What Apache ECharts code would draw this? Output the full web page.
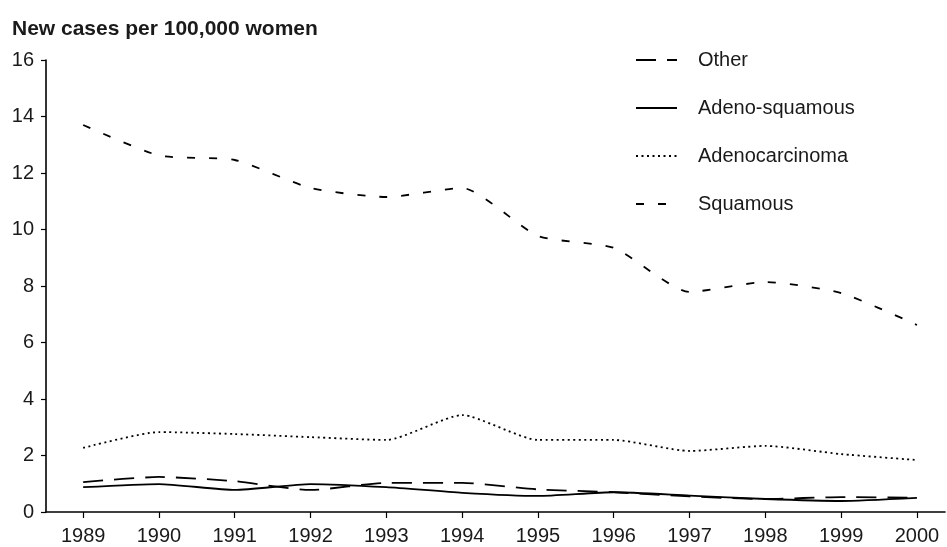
<!DOCTYPE html>
<html>
<head>
<meta charset="utf-8">
<script src="https://cdn.jsdelivr.net/npm/echarts@6/dist/echarts.min.js"></script>
<style>
  html, body { margin: 0; padding: 0; background: #fff; }
  #mainChart { width: 947px; height: 547px; }
</style>
</head>
<body>
<div id="mainChart"></div>
<script>
// data
var years = [1989, 1990, 1991, 1992, 1993, 1994, 1995, 1996, 1997, 1998, 1999, 2000];
var other = [1.06, 1.24, 1.09, 0.78, 1.03, 1.03, 0.8, 0.7, 0.55, 0.46, 0.53, 0.5];
var adenoSquamous = [0.88, 0.99, 0.78, 0.99, 0.88, 0.68, 0.57, 0.7, 0.58, 0.46, 0.39, 0.5];
var adenocarcinoma = [2.27, 2.83, 2.76, 2.65, 2.55, 3.43, 2.55, 2.55, 2.16, 2.34, 2.05, 1.84];
var squamous = [13.7, 12.62, 12.46, 11.47, 11.15, 11.47, 9.77, 9.35, 7.79, 8.14, 7.75, 6.62];

function pairs(vals) {
  return years.map(function (y, i) { return [y, vals[i]]; });
}

var chart = echarts.init(document.getElementById("mainChart"));
var textColor = "#1a1a1a";
var font = "Liberation Sans";

function lineSeries(name, vals, type) {
  return {
    name: name,
    type: "line",
    smooth: 0.2,
    symbol: "none",
    data: pairs(vals),
    lineStyle: { color: "#000", width: 1.8, type: type },
    itemStyle: { color: "#000" },
    animation: false
  };
}

var option = {
  backgroundColor: "#fff",
  title: {
    text: "New cases per 100,000 women",
    left: 7,
    top: 14,
    textStyle: { fontFamily: font, fontSize: 21, fontWeight: "bold", color: textColor }
  },
  legend: {
    orient: "vertical",
    left: 630,
    top: 45,
    itemWidth: 41,
    itemHeight: 14,
    itemGap: 28,
    itemStyle: { color: "rgba(0,0,0,0)", borderWidth: 0, opacity: 0 },
    textStyle: { fontFamily: font, fontSize: 20, color: textColor, padding: [0, 0, 0, 16] },
    data: ["Other", "Adeno-squamous", "Adenocarcinoma", "Squamous"]
  },
  grid: { left: 46, right: 2, top: 60, bottom: 35, containLabel: false },
  xAxis: {
    type: "value",
    min: 1988.51,
    max: 2000.37,
    splitLine: { show: false },
    axisLine: { lineStyle: { color: "#000", width: 1.6 } },
    axisTick: { customValues: years, length: 6, lineStyle: { color: "#000", width: 1.2 } },
    axisLabel: {
      customValues: years,
      margin: 14,
      fontFamily: font,
      fontSize: 20,
      color: textColor,
      formatter: function (v) { return String(v); }
    }
  },
  yAxis: {
    type: "value",
    min: 0,
    max: 16,
    interval: 2,
    splitLine: { show: false },
    axisLine: { show: true, lineStyle: { color: "#000", width: 1.6 } },
    axisTick: { show: true, length: 5, lineStyle: { color: "#000", width: 1.2 } },
    axisLabel: { margin: 12, fontFamily: font, fontSize: 20, color: textColor }
  },
  series: [
    lineSeries("Other", other, [20, 11]),
    lineSeries("Adeno-squamous", adenoSquamous, "solid"),
    lineSeries("Adenocarcinoma", adenocarcinoma, [2, 3.5]),
    lineSeries("Squamous", squamous, [8, 14])
  ]
};

chart.setOption(option);
</script>
</body>
</html>
